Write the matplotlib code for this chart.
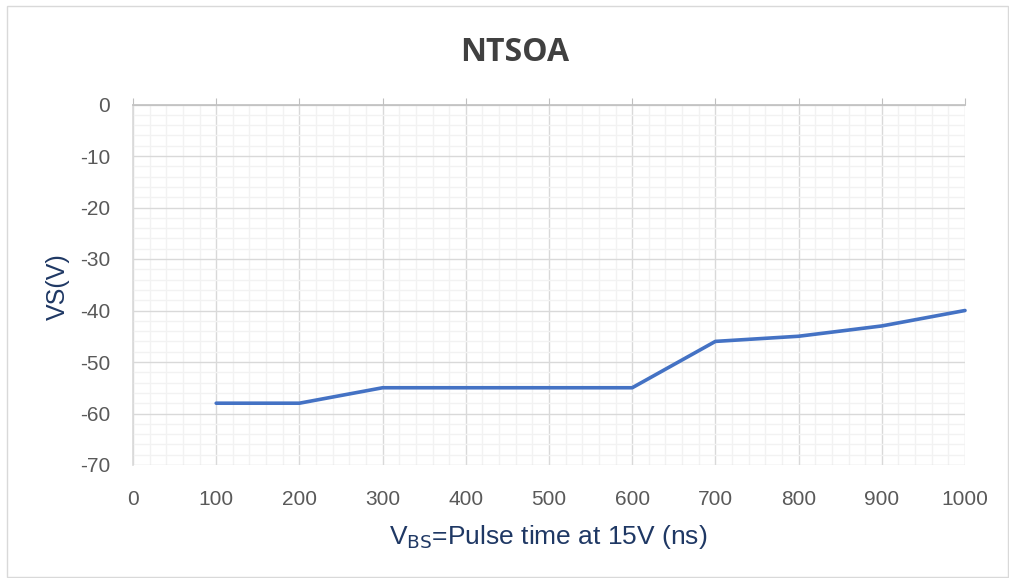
import matplotlib
matplotlib.use("Agg")
import matplotlib.pyplot as plt
from matplotlib.patches import Rectangle
import numpy as np

plt.rcParams["axes.unicode_minus"] = False

pulse_ns = [100, 200, 300, 400, 500, 600, 700, 800, 900, 1000]
vs_volts = [-58, -58, -55, -55, -55, -55, -46, -45, -43, -40]
x_ticks = list(range(0, 1001, 100))
y_ticks = list(range(-70, 1, 10))

W, H = 1009, 578
fig = plt.figure(figsize=(W / 100, H / 100), dpi=100)
fig.patches.append(Rectangle((6.5 / W, 1.5 / H), 1001 / W, 571 / H, transform=fig.transFigure,
                             fill=False, edgecolor="#D9D9D9", linewidth=1.0))
ax = fig.add_axes([133 / W, 1 - 465 / H, (965 - 133) / W, (465 - 104.5) / H])

ax.set_xlim(0, 1000)
ax.set_ylim(-70, 0)
ax.set_xticks(x_ticks)
ax.set_yticks(y_ticks)
ax.set_xticks(np.arange(0, 1001, 20), minor=True)
ax.set_yticks(np.arange(-70, 1, 2), minor=True)
ax.grid(which="minor", color="#F2F2F2", linewidth=1.0)
ax.grid(which="major", color="#D9D9D9", linewidth=1.0)
ax.set_axisbelow(True)

for s in ax.spines.values():
    s.set_visible(False)
ax.spines["top"].set_visible(True)
ax.spines["top"].set_color("#BFBFBF")
ax.spines["top"].set_linewidth(1.2)
ax.spines["left"].set_visible(True)
ax.spines["left"].set_color("#D9D9D9")
ax.spines["left"].set_linewidth(1.2)

ax.tick_params(axis="x", which="major", top=True, bottom=False, labelbottom=True,
               labeltop=False, direction="out", length=5, color="#BFBFBF",
               labelsize=15, labelcolor="#595959", pad=13)
ax.tick_params(axis="x", which="minor", top=False, bottom=False, length=0)
ax.tick_params(axis="y", which="both", left=False, right=False, length=0,
               labelsize=15, labelcolor="#595959", pad=16.5)
for lab in ax.get_xticklabels() + ax.get_yticklabels():
    lab.set_fontfamily("Liberation Sans")

ax.plot(pulse_ns, vs_volts, color="#4472C4", linewidth=2.6, solid_capstyle="round",
        clip_on=False, zorder=3)

fig.text(548.5 / W, 1 - 544 / H, r"V$_{\mathrm{BS}}$=Pulse time at 15V (ns)",
         ha="center", va="baseline", fontsize=19, color="#1F3864",
         family="Liberation Sans")
fig.text(58 / W, 1 - 286.5 / H, "VS(V)", rotation=90, ha="center", va="center",
         fontsize=18, color="#1F3864", family="Liberation Sans")
fig.text(515 / W, 1 - 61 / H, "NTSOA", ha="center", va="baseline", fontsize=23,
         fontweight="bold", color="#404040", family="Open Sans")

fig.savefig("out.png", dpi=100)
